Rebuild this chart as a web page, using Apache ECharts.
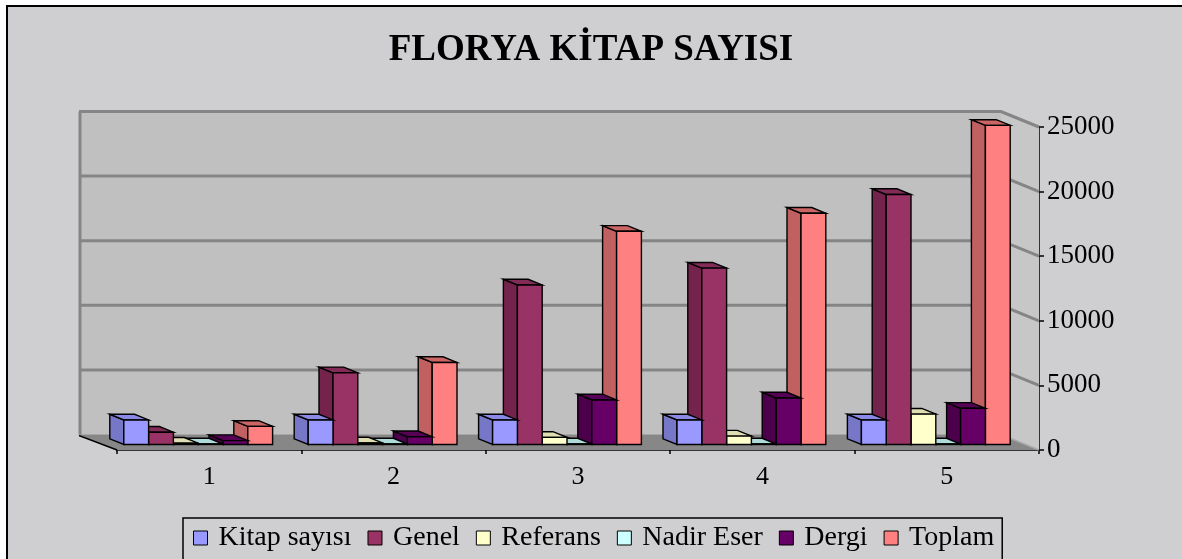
<!DOCTYPE html>
<html>
<head>
<meta charset="utf-8">
<script src="https://cdn.jsdelivr.net/npm/echarts/dist/echarts.min.js"></script>
<style>
html,body{margin:0;padding:0;background:#ffffff;}
#chart{width:1182px;height:559px;}
</style>
</head>
<body>
<div id="chart"></div>
<script>
// ---- data ----
const categories = ['1', '2', '3', '4', '5'];
const kitapSayisi = [1900, 1900, 1900, 1900, 1900];
const genel = [950, 5550, 12350, 13650, 19350];
const referans = [100, 120, 550, 650, 2350];
const nadirEser = [40, 40, 40, 40, 40];
const dergi = [300, 600, 3450, 3600, 2800];
const toplam = [1400, 6350, 16500, 17900, 24700];
const valueTicks = [0, 5000, 10000, 15000, 20000, 25000];
const seriesNames = ['Kitap sayısı', 'Genel', 'Referans', 'Nadir Eser', 'Dergi', 'Toplam'];
const seriesValues = [kitapSayisi, genel, referans, nadirEser, dergi, toplam];

// ---- styles ----
const faceColors = [
  { front: '#9999FF', side: '#7777C8', top: '#8A8AE6' },
  { front: '#993366', side: '#74244C', top: '#822B57' },
  { front: '#FFFFCC', side: '#CCCCA3', top: '#DEDEB2' },
  { front: '#CCFFFF', side: '#A3CCCC', top: '#AEDADA' },
  { front: '#660066', side: '#4C004C', top: '#560056' },
  { front: '#FF8080', side: '#C06060', top: '#CC6666' }
];
const WALL_D = [-38, -15.5];   // depth offset front->back of the chart box
const BAR_F = [-11, -5.5];     // offset of bar front faces from front plane
const BAR_D = [-14, -5.7];     // bar depth
const BAR_FRAC = 0.1345;       // bar width as fraction of band
const SERIF = 'Liberation Serif, Times New Roman, serif';

const chart = echarts.init(document.getElementById('chart'), null, { renderer: 'canvas' });

function wallRender(params, api) {
  const cs = params.coordSys;
  const xl = cs.x, xr = cs.x + cs.width;
  const yTop = api.coord([0, valueTicks[valueTicks.length - 1]])[1];
  const yBot = api.coord([0, 0])[1];
  const dx = WALL_D[0], dy = WALL_D[1];
  const children = [];
  children.push({ type: 'rect', shape: { x: xl + dx, y: yTop + dy, width: cs.width, height: yBot - yTop },
    style: { fill: '#C0C0C0', stroke: null } });
  children.push({ type: 'polygon', shape: { points: [[xr + dx, yTop + dy], [xr, yTop], [xr, yBot], [xr + dx, yBot + dy]] },
    style: { fill: '#C7C7C7', stroke: null } });
  children.push({ type: 'polygon', shape: { points: [[xl + dx, yBot + dy], [xr + dx, yBot + dy], [xr, yBot], [xl, yBot]] },
    style: { fill: '#878787', stroke: null } });
  valueTicks.forEach(function (v) {
    const y = api.coord([0, v])[1];
    if (v === 0) {
      children.push({ type: 'polyline', shape: { points: [[xr + dx, y + dy], [xr, y]] },
        style: { stroke: '#A8A8A8', lineWidth: 1.5, fill: null } });
      return;
    }
    children.push({ type: 'polyline', shape: { points: [[xl + dx, y + dy], [xr + dx, y + dy], [xr, y]] },
      style: { stroke: '#858585', lineWidth: 3, fill: null } });
  });
  children.push({ type: 'line', shape: { x1: xl + dx + 1, y1: yTop + dy, x2: xl + dx + 1, y2: yBot + dy },
    style: { stroke: '#858585', lineWidth: 3 } });
  children.push({ type: 'line', shape: { x1: xl + dx, y1: yBot + dy + 1, x2: xl, y2: yBot },
    style: { stroke: '#000', lineWidth: 1.5 } });
  return { type: 'group', children: children };
}

function makeBarRender(s) {
  return function (params, api) {
    const idx = api.value(0);
    const c = api.coord([idx, api.value(1)]);
    const b = api.coord([idx, 0]);
    const bandW = api.size([1, 0])[0];
    const bw = bandW * BAR_FRAC;
    const x0 = c[0] - 3 * bw + s * bw + BAR_F[0];
    const x1 = x0 + bw;
    const yt = c[1] + BAR_F[1];
    const yb = b[1] + BAR_F[1];
    const dx = BAR_D[0], dy = BAR_D[1];
    const col = faceColors[s];
    const st = { stroke: '#000', lineWidth: 1.4, lineJoin: 'miter' };
    return {
      type: 'group',
      children: [
        { type: 'polygon', shape: { points: [[x0, yb], [x0, yt], [x0 + dx, yt + dy], [x0 + dx, yb + dy]] },
          style: Object.assign({ fill: col.side }, st) },
        { type: 'polygon', shape: { points: [[x0, yt], [x1, yt], [x1 + dx, yt + dy], [x0 + dx, yt + dy]] },
          style: Object.assign({ fill: col.top }, st) },
        { type: 'rect', shape: { x: x0, y: yt, width: bw, height: yb - yt },
          style: Object.assign({ fill: col.front }, st) }
      ]
    };
  };
}

const series = [{
  name: '__walls',
  type: 'custom',
  renderItem: wallRender,
  data: [[0, 0]],
  z: 1,
  silent: true
}];
seriesNames.forEach(function (name, s) {
  series.push({
    name: name,
    type: 'custom',
    renderItem: makeBarRender(s),
    data: seriesValues[s].map(function (v, i) { return [i, v]; }),
    encode: { x: 0, y: 1 },
    itemStyle: { color: faceColors[s].front, borderColor: '#000', borderWidth: 1 },
    z: 20 - s
  });
});

const option = {
  animation: false,
  backgroundColor: 'transparent',
  graphic: [{
    type: 'rect', z: -10, silent: true,
    shape: { x: 7, y: 6, width: 1300, height: 700 },
    style: { fill: '#CFCFD1', stroke: '#000', lineWidth: 2 }
  }],
  title: {
    text: 'FLORYA KİTAP SAYISI',
    left: 'center',
    top: 27,
    textStyle: { fontFamily: SERIF, fontWeight: 'bold', fontSize: 37, color: '#000' }
  },
  legend: {
    data: seriesNames.map(function (n, s) {
      return { name: n, icon: 'rect', itemStyle: { color: faceColors[s].front, borderColor: '#000', borderWidth: 1 } };
    }),
    left: 183,
    top: 518,
    itemWidth: 14,
    itemHeight: 14,
    itemGap: 16,
    padding: [6, 8, 30, 10],
    borderColor: '#000',
    borderWidth: 1.5,
    textStyle: { fontFamily: SERIF, fontSize: 28, color: '#000', padding: [0, 0, 0, 6] }
  },
  grid: { left: 117, right: 143, top: 127, bottom: 109, containLabel: false },
  xAxis: {
    type: 'category',
    data: categories,
    axisLine: { show: true, lineStyle: { color: '#000', width: 1.5 } },
    axisTick: { show: true, length: 4, lineStyle: { color: '#000', width: 1.5 } },
    axisLabel: { fontFamily: SERIF, fontSize: 26, color: '#000', margin: 14 },
    splitLine: { show: false }
  },
  yAxis: {
    type: 'value',
    position: 'right',
    min: 0,
    max: 25000,
    interval: 5000,
    axisLine: { show: true, lineStyle: { color: '#000', width: 1.5 } },
    axisTick: { show: true, length: 5, lineStyle: { color: '#000', width: 1.5 } },
    axisLabel: { fontFamily: SERIF, fontSize: 27, color: '#000', margin: 8,
      formatter: function (v) { return String(v); } },
    splitLine: { show: false }
  },
  series: series
};
chart.setOption(option);
</script>
</body>
</html>
